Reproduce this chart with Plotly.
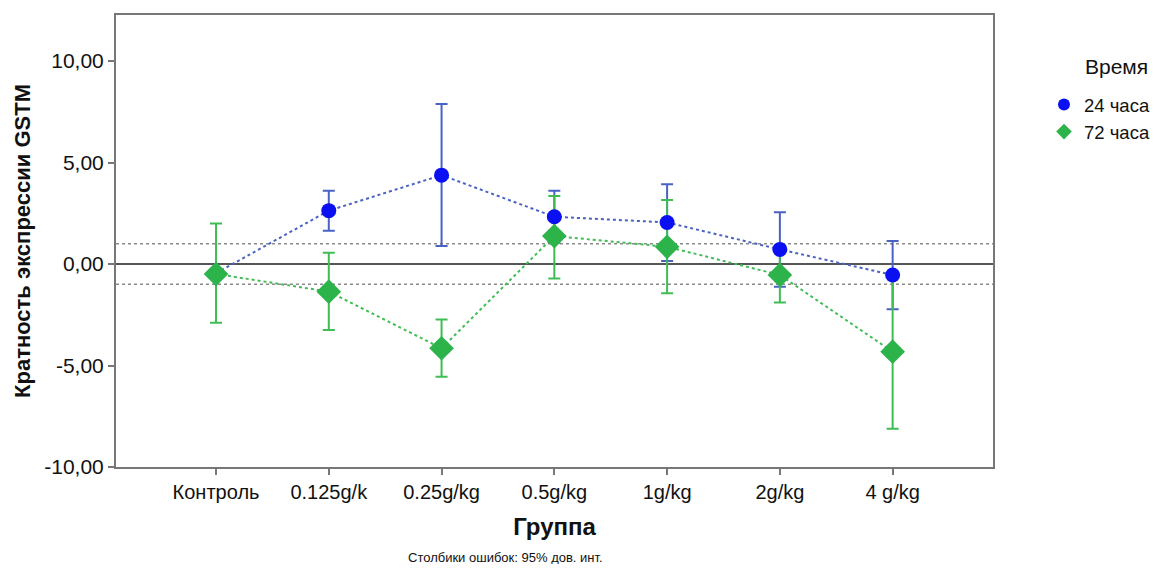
import plotly.graph_objects as go

groups = ["Контроль", "0.125g/k", "0.25g/kg", "0.5g/kg", "1g/kg", "2g/kg", "4 g/kg"]

mean_24 = [-0.45, 2.63, 4.38, 2.33, 2.05, 0.72, -0.54]
upper_24 = [-0.45, 3.61, 7.88, 3.61, 3.93, 2.55, 1.13]
lower_24 = [-0.45, 1.64, 0.89, 1.05, 0.15, -1.12, -2.23]

mean_72 = [-0.49, -1.36, -4.15, 1.38, 0.85, -0.54, -4.32]
upper_72 = [2.00, 0.56, -2.73, 3.35, 3.15, 0.85, -0.45]
lower_72 = [-2.89, -3.25, -5.55, -0.71, -1.44, -1.90, -8.11]

y_ticks = [-10, -5, 0, 5, 10]
y_ticklabels = ["-10,00", "-5,00", "0,00", "5,00", "10,00"]
ref_lines = [1, -1]

series_names = ["24 часа", "72 часа"]

FONT = "Arial, Liberation Sans, sans-serif"
BLUE_M = "#0a10f2"
BLUE_L = "#4a62c2"
GREEN_M = "#2cb34a"
GREEN_L = "#3fbd54"

# page body has an 8px margin on every side: keep the figure inside the viewport
OFF = 8
W, H = 1160 - 2 * OFF, 572 - 2 * OFF
L, R, T, B = 116 - OFF, 993 - OFF, 15 - OFF, 467 - OFF
PW, PH = R - L, B - T

x = list(range(len(groups)))

fig = go.Figure()


def err_trace(mean, up, lo, color):
    return go.Scatter(
        x=x, y=mean, mode="lines",
        line=dict(color=color, width=2, dash="dot"),
        error_y=dict(type="data", symmetric=False,
                     array=[u - m for u, m in zip(up, mean)],
                     arrayminus=[m - l for m, l in zip(mean, lo)],
                     color=color, thickness=2, width=6),
        showlegend=False, hoverinfo="skip")


fig.add_trace(err_trace(mean_24, upper_24, lower_24, BLUE_L))
fig.add_trace(err_trace(mean_72, upper_72, lower_72, GREEN_L))

fig.add_trace(go.Scatter(x=x, y=mean_24, mode="markers", name=series_names[0],
                         marker=dict(symbol="circle", size=15, color=BLUE_M)))
fig.add_trace(go.Scatter(x=x, y=mean_72, mode="markers", name=series_names[1],
                         marker=dict(symbol="diamond", size=19, color=GREEN_M)))

# reference lines
fig.add_hline(y=0, line=dict(color="#555555", width=2), layer="below")
for r in ref_lines:
    fig.add_hline(y=r, line=dict(color="#8a8a8a", width=1.5, dash="dot"), layer="below")

fig.update_layout(
    width=W, height=H,
    margin=dict(l=L, r=W - R, t=T, b=H - B, autoexpand=False),
    paper_bgcolor="white", plot_bgcolor="white",
    font=dict(family=FONT, size=20, color="#111111"),
    showlegend=True,
    legend=dict(x=(1044 - OFF - L) / PW, y=(B - (86 - OFF)) / PH, xanchor="left", yanchor="top",
                font=dict(size=18.5, family=FONT), bgcolor="rgba(0,0,0,0)",
                itemsizing="constant", tracegroupgap=0),
    xaxis=dict(
        range=[-0.887, 6.89], tickmode="array", tickvals=x, ticktext=groups,
        showline=True, linecolor="#777777", linewidth=2, mirror=True,
        ticks="outside", ticklen=6, tickcolor="#777777", tickwidth=1.5,
        showgrid=False, zeroline=False, automargin=False,
        tickfont=dict(size=20, family=FONT, color="#111111"),
        title=dict(text="<b>Группа</b>", font=dict(size=24, family=FONT), standoff=16),
    ),
    yaxis=dict(
        range=[-10, 12.27], tickmode="array", tickvals=y_ticks, ticktext=y_ticklabels,
        showline=True, linecolor="#777777", linewidth=2, mirror=True,
        ticks="outside", ticklen=6, tickcolor="#777777", tickwidth=1.5,
        showgrid=False, zeroline=False, automargin=False,
        tickfont=dict(size=21, family=FONT, color="#111111"),
        title=dict(text="<b>Кратность экспрессии GSTM</b>", font=dict(size=22, family=FONT), standoff=8),
    ),
    annotations=[
        dict(text="Время", xref="paper", yref="paper", x=(1150 - OFF - L) / PW, y=(B - (67 - OFF)) / PH,
             xanchor="right", yanchor="middle", showarrow=False,
             font=dict(size=21, family=FONT, color="#111111")),
        dict(text="Столбики ошибок: 95% дов. инт.", xref="paper", yref="paper",
             x=(505 - OFF - L) / PW, y=-((557 - OFF) - B) / PH, xanchor="center", yanchor="middle",
             showarrow=False, font=dict(size=13, family=FONT, color="#111111")),
    ],
)

fig.write_html("out.html")
